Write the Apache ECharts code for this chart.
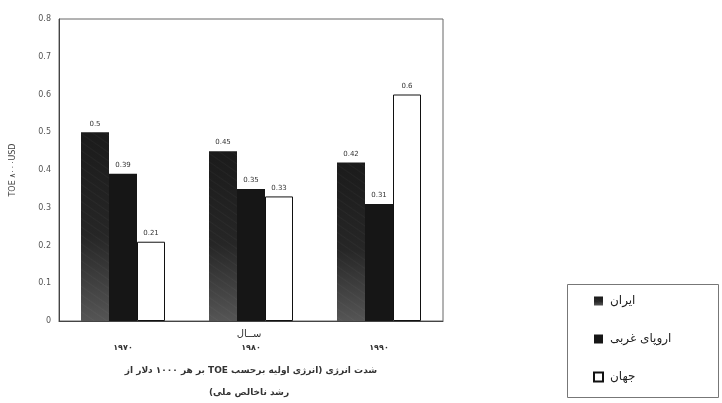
<!DOCTYPE html>
<html>
<head>
<meta charset="utf-8">
<script src="https://cdn.jsdelivr.net/npm/echarts@6/dist/echarts.min.js"></script>
<style>
  html, body { margin: 0; padding: 0; background: #fff; }
  #chart { width: 722px; height: 403px; }
</style>
</head>
<body>
<div id="chart"></div>
<script>
// Energy intensity by year (TOE per 1000 USD of GDP)
var years = ['۱۹۷۰', '۱۹۸۰', '۱۹۹۰'];
var seriesNames = ['ایران', 'اروپای غربی', 'جهان'];
var iranValues = [0.5, 0.45, 0.42];
var westEuropeValues = [0.39, 0.35, 0.31];
var worldValues = [0.21, 0.33, 0.6];
var yTicks = { min: 0, max: 0.8, step: 0.1 };
var axisTitle = 'ســال';
var captionLine1 = 'شدت انرژی (انرژی اولیه برحسب TOE بر هر ۱۰۰۰ دلار از';
var captionLine2 = 'رشد ناخالص ملی)';
var yName = 'TOE ۸۰۰۰USD';

var FONT = 'DejaVu Sans';

// right-to-left embedding so mixed Persian/Latin lines keep their order
function rtl(s) {
  return '\u202B' + s + '\u202C';
}

var chart = echarts.init(document.getElementById('chart'), null, { renderer: 'canvas' });

var iranFill = {
  type: 'linear', x: 0, y: 0, x2: 0, y2: 1,
  colorStops: [
    { offset: 0, color: '#1b1b1b' },
    { offset: 0.55, color: '#262626' },
    { offset: 1, color: '#555555' }
  ]
};

var labelStyle = {
  show: true,
  position: 'top',
  distance: 5,
  fontFamily: FONT,
  fontSize: 7,
  color: '#333',
  formatter: function (p) { return String(p.value); }
};

chart.setOption({
  animation: false,
  backgroundColor: '#ffffff',
  grid: {
    left: 59, top: 19, right: 279, bottom: 82,
    show: true, borderColor: '#666', borderWidth: 1
  },
  legend: {
    orient: 'vertical',
    left: 593, top: 294,
    itemWidth: 9, itemHeight: 9,
    itemGap: 24,
    padding: 0,
    align: 'left',
    icon: 'rect',
    data: seriesNames,
    textStyle: { fontFamily: FONT, fontSize: 12, lineHeight: 14, color: '#222', padding: [0, 0, 0, 2] }
  },
  xAxis: {
    type: 'category',
    data: years,
    axisLine: { show: true, lineStyle: { color: '#444', width: 1 } },
    axisTick: { show: false },
    axisLabel: { margin: 23, fontFamily: FONT, fontSize: 8, fontWeight: 'bold', color: '#333' }
  },
  yAxis: {
    type: 'value',
    min: yTicks.min, max: yTicks.max, interval: yTicks.step,
    name: yName,
    nameLocation: 'middle',
    nameRotate: 90,
    nameGap: 42,
    nameTextStyle: { fontFamily: FONT, fontSize: 8, color: '#444' },
    axisLine: { show: true, lineStyle: { color: '#444', width: 1 } },
    axisTick: { show: false },
    splitLine: { show: false },
    axisLabel: {
      margin: 8, fontFamily: FONT, fontSize: 8, color: '#555',
      formatter: function (v) { return v === 0 ? '0' : v.toFixed(1); }
    }
  },
  series: [
    {
      name: seriesNames[0], type: 'bar', data: iranValues,
      barWidth: 28, barGap: '0%',
      itemStyle: {
        color: iranFill,
        decal: {
          symbol: 'circle', symbolSize: 0.5,
          color: 'rgba(255,255,255,0.18)',
          dashArrayX: [1, 0], dashArrayY: [3, 4], rotation: 0.6
        }
      },
      label: labelStyle
    },
    {
      name: seriesNames[1], type: 'bar', data: westEuropeValues,
      barWidth: 28, barGap: '0%',
      itemStyle: { color: '#161616' },
      label: labelStyle
    },
    {
      name: seriesNames[2], type: 'bar', data: worldValues,
      barWidth: 28, barGap: '0%',
      itemStyle: { color: '#ffffff', borderColor: '#111', borderWidth: 1 },
      label: labelStyle
    }
  ],
  graphic: [
    {
      type: 'rect', silent: true,
      shape: { x: 567.5, y: 284.5, width: 151, height: 113 },
      style: { fill: 'none', stroke: '#777', lineWidth: 1 }
    },
    {
      type: 'text', x: 249, y: 334,
      style: { text: axisTitle, fontFamily: FONT, fontSize: 10, fill: '#333', align: 'center', verticalAlign: 'middle' }
    },
    {
      type: 'text', x: 251, y: 371,
      style: { text: rtl(captionLine1), fontFamily: FONT, fontSize: 9, fontWeight: 'bold', fill: '#333', align: 'center', verticalAlign: 'middle' }
    },
    {
      type: 'text', x: 249, y: 393,
      style: { text: rtl(captionLine2), fontFamily: FONT, fontSize: 9, fontWeight: 'bold', fill: '#333', align: 'center', verticalAlign: 'middle' }
    }
  ]
});
</script>
</body>
</html>
